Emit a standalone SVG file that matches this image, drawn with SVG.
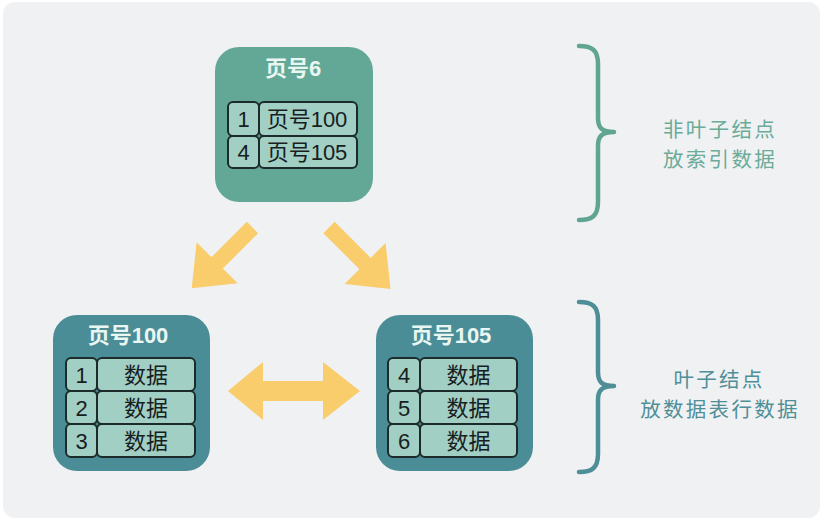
<svg xmlns="http://www.w3.org/2000/svg" width="822" height="521" viewBox="0 0 822 521">
<style>
.title{font-family:"Liberation Sans","Noto Sans CJK SC",sans-serif;font-size:22px;font-weight:bold;fill:#e9f6f1;text-anchor:middle;dominant-baseline:central}
.cell{fill:#a2cfc3;stroke:#1c2a2a;stroke-width:2}
.ct{font-family:"Liberation Sans","Noto Sans CJK SC",sans-serif;font-size:22px;fill:#17201f;text-anchor:middle;dominant-baseline:central}
.arrow{fill:#f9cc6c}
.brace{fill:none;stroke-width:4.5;stroke-linecap:round;stroke-linejoin:round}
.lbl{font-family:"Noto Sans CJK SC",sans-serif;font-size:20.5px;letter-spacing:2.3px;text-anchor:middle;dominant-baseline:central}
</style>
<rect x="0" y="0" width="822" height="521" fill="#ffffff"/>
<rect x="3" y="2" width="817" height="516" rx="12" fill="#f0f1f3"/>

<g id="node-page6">
<rect x="215" y="47" width="158" height="155" rx="24" fill="#63a897"/>
<text class="title" x="293" y="68">页号6</text>
<rect class="cell" x="228" y="102" width="31" height="34" rx="5"/>
<rect class="cell" x="259" y="102" width="98" height="34" rx="5"/>
<rect class="cell" x="228" y="136" width="31" height="32" rx="5"/>
<rect class="cell" x="259" y="136" width="98" height="32" rx="5"/>
<text class="ct" x="243.5" y="119.5">1</text>
<text class="ct" x="307" y="119.5">页号100</text>
<text class="ct" x="243.5" y="152.5">4</text>
<text class="ct" x="307" y="152.5">页号105</text>
</g>

<g id="node-page100">
<rect x="53" y="315" width="157" height="156" rx="24" fill="#4b8d96"/>
<text class="title" x="128" y="335">页号100</text>
<rect class="cell" x="66" y="358" width="31" height="33" rx="5"/>
<rect class="cell" x="97" y="358" width="98" height="33" rx="5"/>
<rect class="cell" x="66" y="391" width="31" height="33" rx="5"/>
<rect class="cell" x="97" y="391" width="98" height="33" rx="5"/>
<rect class="cell" x="66" y="424" width="31" height="33" rx="5"/>
<rect class="cell" x="97" y="424" width="98" height="33" rx="5"/>
<text class="ct" x="81.5" y="375">1</text>
<text class="ct" x="146" y="375">数据</text>
<text class="ct" x="81.5" y="408">2</text>
<text class="ct" x="146" y="408">数据</text>
<text class="ct" x="81.5" y="441">3</text>
<text class="ct" x="146" y="441">数据</text>
</g>

<g id="node-page105">
<rect x="376" y="315" width="157" height="156" rx="24" fill="#4b8d96"/>
<text class="title" x="451" y="335">页号105</text>
<rect class="cell" x="388" y="358" width="32" height="33" rx="5"/>
<rect class="cell" x="420" y="358" width="97" height="33" rx="5"/>
<rect class="cell" x="388" y="391" width="32" height="33" rx="5"/>
<rect class="cell" x="420" y="391" width="97" height="33" rx="5"/>
<rect class="cell" x="388" y="424" width="32" height="33" rx="5"/>
<rect class="cell" x="420" y="424" width="97" height="33" rx="5"/>
<text class="ct" x="404" y="375">4</text>
<text class="ct" x="468.5" y="375">数据</text>
<text class="ct" x="404" y="408">5</text>
<text class="ct" x="468.5" y="408">数据</text>
<text class="ct" x="404" y="441">6</text>
<text class="ct" x="468.5" y="441">数据</text>
</g>

<g id="connectors">
<polygon class="arrow" transform="translate(252.5,227.5) rotate(135)" points="0,-8 50,-8 50,-29 86,0 50,29 50,8 0,8"/>
<polygon class="arrow" transform="translate(329,227.5) rotate(45)" points="0,-8 51,-8 51,-29 87,0 51,29 51,8 0,8"/>
<polygon class="arrow" points="228,391 263,362 263,381 323,381 323,362 360,391 323,420 323,401 263,401 263,420"/>
</g>

<g id="brace-nonleaf">
<path class="brace" stroke="#5fa592" d="M579,46 C592,46 598,50 598,64 L598,118 C598,128 602,132 614,132 C602,132 598,136 598,146 L598,202 C598,216 592,220 579,220"/>
<text class="lbl" x="720" y="128" fill="#6aab99">非叶子结点</text>
<text class="lbl" x="720" y="158" fill="#6aab99">放索引数据</text>
</g>

<g id="brace-leaf">
<path class="brace" stroke="#4e8e96" d="M579,302 C592,302 598,306 598,320 L598,372 C598,382 602,386 614,386 C602,386 598,390 598,400 L598,454 C598,468 592,472 579,472"/>
<text class="lbl" x="719" y="378" fill="#4f8f97">叶子结点</text>
<text class="lbl" x="720" y="408" fill="#4f8f97">放数据表行数据</text>
</g>
</svg>
